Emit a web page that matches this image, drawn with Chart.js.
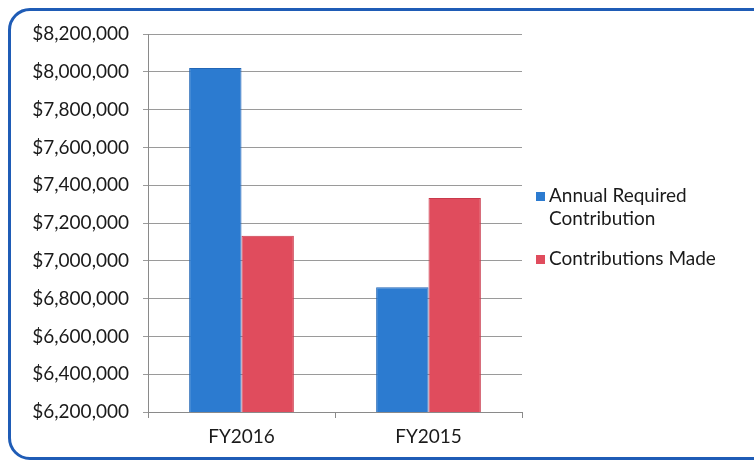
<!DOCTYPE html>
<html>
<head>
<meta charset="utf-8">
<script src="https://cdn.jsdelivr.net/npm/chart.js@4/dist/chart.umd.min.js"></script>
<style>
  html, body { margin: 0; padding: 0; background: #fff; overflow: hidden; }
  #frame {
    position: absolute; left: 8px; top: 8px; width: 780px; height: 446px;
    border: 3px solid #1f5cb6; border-radius: 22px;
  }
  #wrap { position: absolute; left: 0; top: 0; width: 754px; height: 460px; }
</style>
</head>
<body>
<div id="frame"></div>
<div id="wrap"><canvas id="myChart" width="754" height="460"></canvas></div>
<script>
const categories = ['FY2016', 'FY2015'];
const required_values = [8020000, 6860000];
const made_values = [7132000, 7332000];
const series_labels = [['Annual Required', 'Contribution'], ['Contributions Made']];

const ctx = document.getElementById('myChart').getContext('2d');
const font_name = 'Lato, "Open Sans", sans-serif';

// legend drawn by hand so the first label can wrap on two lines
const side_legend = {
    id: 'side_legend',
    afterDraw(chart) {
        const c = chart.ctx;
        const x = chart.chartArea.right + 14;
        let y = 196;
        c.save();
        c.font = '19px ' + font_name;
        c.textBaseline = 'middle';
        chart.data.datasets.forEach((ds, i) => {
            const lines = series_labels[i];
            c.fillStyle = ds.backgroundColor;
            c.fillRect(x, y - 4, 9, 9);
            c.fillStyle = '#1a1a1a';
            lines.forEach((ln, j) => c.fillText(ln, x + 13, y + j * 23));
            y += lines.length * 23 + 17;
        });
        c.restore();
    }
};

const chart = new Chart(ctx, {
    type: 'bar',
    data: {
        labels: categories,
        datasets: [{
            label: 'Annual Required Contribution',
            data: required_values,
            backgroundColor: '#2c7bd0',
            borderColor: '#2266b6',
            borderWidth: 1,
        }, {
            label: 'Contributions Made',
            data: made_values,
            backgroundColor: '#e04c5d',
            borderColor: '#c93a4c',
            borderWidth: 1,
        }]
    },
    options: {
        responsive: false,
        animation: false,
        categoryPercentage: 0.56,
        barPercentage: 1,
        layout: { padding: { left: 0, right: 232, top: 34, bottom: 0 } },
        plugins: {
            legend: { display: false },
            tooltip: { enabled: false },
        },
        scales: {
            y: {
                min: 6200000,
                max: 8200000,
                afterFit: s => { s.width = 148; },
                ticks: {
                    stepSize: 200000,
                    padding: 14,
                    color: '#1a1a1a',
                    font: { family: font_name, size: 19 },
                    callback: v => '$' + v.toLocaleString('en-US'),
                },
                grid: { color: '#9a9a9a', lineWidth: 1, tickLength: 5 },
                border: { color: '#8a8a8a' },
            },
            x: {
                afterFit: s => { s.height = 48; },
                ticks: {
                    padding: 7,
                    color: '#1a1a1a',
                    font: { family: font_name, size: 19 },
                },
                grid: { drawOnChartArea: false, tickLength: 6, color: '#8a8a8a' },
                border: { color: '#8a8a8a' },
            }
        }
    },
    plugins: [side_legend]
});
</script>
</body>
</html>
